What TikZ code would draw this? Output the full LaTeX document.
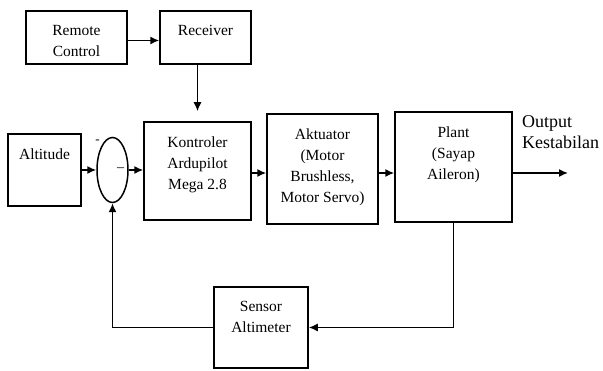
\documentclass[tikz,border=0pt]{standalone}
\usepackage{fontspec}
\setmainfont{Liberation Serif}
\newfontfamily\tnr{Liberation Serif}
\usetikzlibrary{shapes.geometric,arrows.meta}

\begin{document}
\begin{tikzpicture}[x=1pt,y=-1pt,
    blok/.style={draw,line width=1.5pt,inner sep=0pt},
    isi/.style={anchor=north,align=center,inner sep=0pt,font=\tnr\fontsize{15.5}{21}\selectfont,yshift=-15pt},
    tanda/.style={inner sep=0pt},
    panah/.style={line width=1.5pt,-{Latex[length=9pt,width=8pt]}}]
    \useasboundingbox (0,0) rectangle (603,371);

    \node[blok,minimum width=101pt,minimum height=53pt,label={[isi]north:Remote\\Control}] (remote) at (76.5,37.5) {};
    \node[blok,minimum width=91pt,minimum height=53pt,label={[isi]north:Receiver}] (receiver) at (205.5,37.5) {};
    \node[blok,minimum width=73pt,minimum height=72pt,label={[isi]north:Altitude}] (altitude) at (44.5,170) {};
    \node[blok,ellipse,minimum width=31pt,minimum height=65pt] (sum) at (112.5,170) {};
    \node[blok,minimum width=107pt,minimum height=98pt,label={[isi]north:Kontroler\\Ardupilot\\Mega 2.8}] (kontroler) at (197.5,171) {};
    \node[blok,minimum width=111pt,minimum height=110pt,label={[isi]north:Aktuator\\(Motor\\Brushless,\\Motor Servo)}] (aktuator) at (322.5,169) {};
    \node[blok,minimum width=117pt,minimum height=110pt,label={[isi]north:Plant\\(Sayap\\Aileron)}] (plant) at (453.5,167) {};
    \node[blok,minimum width=94pt,minimum height=81pt,label={[isi]north:Sensor\\Altimeter}] (sensor) at (261,327.5) {};

    \node[anchor=north west,align=left,inner sep=0pt,font=\tnr\fontsize{18}{21}\selectfont] (keluaran) at (522,115) {Output\\Kestabilan};

	\node[tanda,font=\tnr\fontsize{13}{13}\selectfont] (atas) at (97.5,142) {-};
	\node[tanda,font=\tnr\fontsize{14}{14}\selectfont] (dalam) at (120.5,170) {\textendash};

	\coordinate (ujung) at (568,173);

	\draw[panah] ([yshift=-3pt]remote.east) -- ([yshift=-3pt]remote.east -| receiver.west);
	\draw[panah,shorten >=10pt] (receiver.south -| kontroler.north) -- (kontroler.north);
	\draw[panah] (altitude.east) -- (sum.west);
	\draw[panah] (sum.east) -- (sum.east -| kontroler.west);
	\draw[panah] (kontroler.east |- ujung) -- (aktuator.west |- ujung);
	\draw[panah] (aktuator.east |- ujung) -- (plant.west |- ujung);
	\draw[panah] (plant.east |- ujung) -- (ujung);
	\draw[panah] (plant.south) |- (sensor.east);
	\draw[panah] (sensor.west) -| (sum.south);
\end{tikzpicture}
\end{document}
